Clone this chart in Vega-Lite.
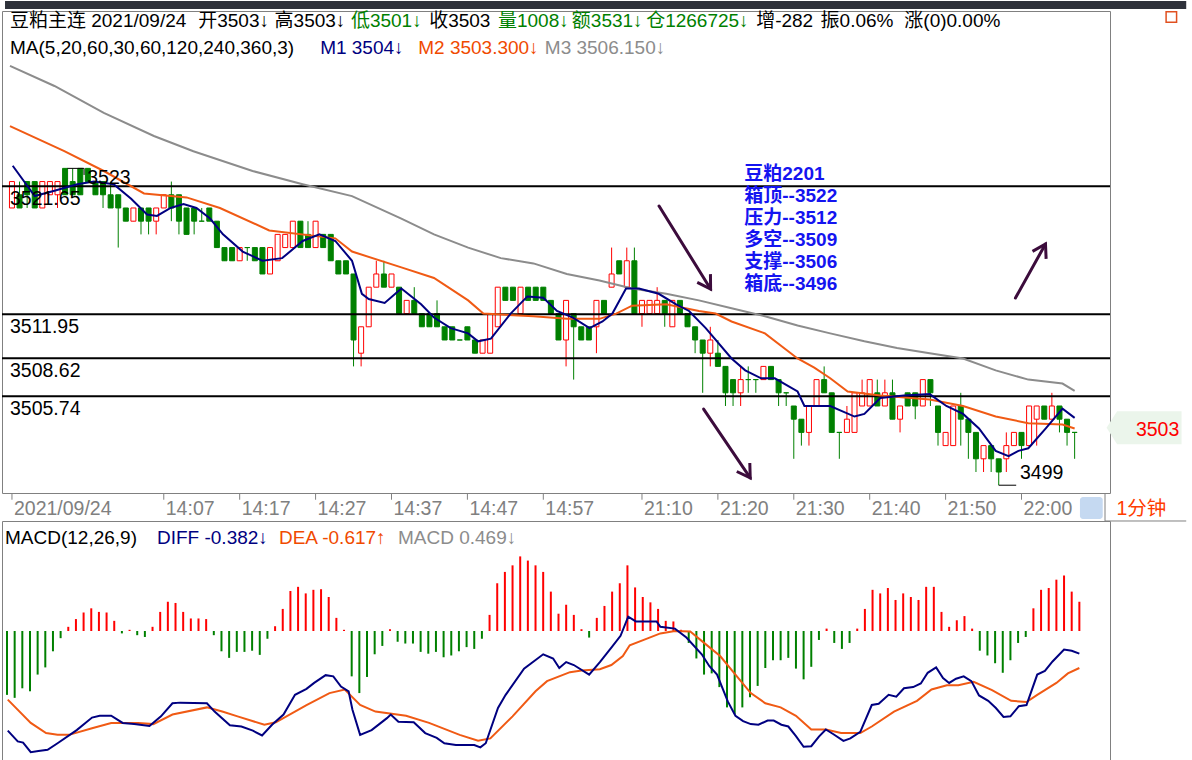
{
"$schema": "https://vega.github.io/schema/vega-lite/v6.json",
"background": "white",
"padding": 0,
"autosize": {"type": "pad"},
"spacing": 28,
"bounds": "flush",
"config": {"font": "Liberation Sans, Noto Sans CJK SC", "view": {"stroke": "#808080", "fill": "white"}},
"resolve": {"scale": {"x": "independent", "y": "independent"}},
"datasets": {
"candles": [
{"i":0,"o":3520,"h":3522,"l":3520,"c":3522},{"i":1,"o":3521,"h":3522,"l":3520,"c":3520},{"i":2,"o":3522,"h":3522,"l":3520,"c":3521},{"i":3,"o":3522,"h":3522,"l":3520,"c":3520},{"i":4,"o":3520,"h":3522,"l":3520,"c":3522},{"i":5,"o":3521,"h":3522,"l":3521,"c":3522},{"i":6,"o":3521,"h":3522,"l":3520,"c":3522},{"i":7,"o":3523,"h":3523,"l":3521,"c":3521},{"i":8,"o":3522,"h":3523,"l":3521,"c":3521},{"i":9,"o":3523,"h":3523,"l":3521,"c":3521},
{"i":10,"o":3523,"h":3523,"l":3522,"c":3522},{"i":11,"o":3522,"h":3522,"l":3521,"c":3521},{"i":12,"o":3522,"h":3522,"l":3520,"c":3521},{"i":13,"o":3521,"h":3522,"l":3520,"c":3520},{"i":14,"o":3521,"h":3521,"l":3517,"c":3520},{"i":15,"o":3520,"h":3520,"l":3519,"c":3519},{"i":16,"o":3519,"h":3520,"l":3519,"c":3520},{"i":17,"o":3520,"h":3520,"l":3518,"c":3519},{"i":18,"o":3520,"h":3520,"l":3518,"c":3519},{"i":19,"o":3519,"h":3520,"l":3518,"c":3520},
{"i":20,"o":3520,"h":3521,"l":3520,"c":3521},{"i":21,"o":3521,"h":3522,"l":3519,"c":3520},{"i":22,"o":3521,"h":3521,"l":3518,"c":3519},{"i":23,"o":3520,"h":3520,"l":3518,"c":3518},{"i":24,"o":3520,"h":3520,"l":3518,"c":3519},{"i":25,"o":3519,"h":3520,"l":3519,"c":3519},{"i":26,"o":3520,"h":3520,"l":3519,"c":3519},{"i":27,"o":3519,"h":3519,"l":3517,"c":3517},{"i":28,"o":3517,"h":3517,"l":3516,"c":3516},{"i":29,"o":3517,"h":3517,"l":3516,"c":3516},
{"i":30,"o":3516,"h":3517,"l":3516,"c":3517},{"i":31,"o":3517,"h":3517,"l":3516,"c":3517},{"i":32,"o":3517,"h":3517,"l":3516,"c":3516},{"i":33,"o":3517,"h":3517,"l":3515,"c":3515},{"i":34,"o":3515,"h":3517,"l":3515,"c":3517},{"i":35,"o":3516,"h":3518,"l":3516,"c":3518},{"i":36,"o":3517,"h":3518,"l":3517,"c":3518},{"i":37,"o":3517,"h":3519,"l":3517,"c":3519},{"i":38,"o":3519,"h":3519,"l":3517,"c":3517},{"i":39,"o":3518,"h":3519,"l":3517,"c":3517},
{"i":40,"o":3517,"h":3519,"l":3517,"c":3519},{"i":41,"o":3518,"h":3518,"l":3517,"c":3517},{"i":42,"o":3518,"h":3518,"l":3516,"c":3516},{"i":43,"o":3516,"h":3516,"l":3515,"c":3515},{"i":44,"o":3516,"h":3516,"l":3515,"c":3515},{"i":45,"o":3515,"h":3515,"l":3508,"c":3510},{"i":46,"o":3509,"h":3511,"l":3508,"c":3511},{"i":47,"o":3511,"h":3514,"l":3511,"c":3514},{"i":48,"o":3514,"h":3516,"l":3514,"c":3515},{"i":49,"o":3515,"h":3516,"l":3514,"c":3514},
{"i":50,"o":3514,"h":3515,"l":3514,"c":3515},{"i":51,"o":3514,"h":3514,"l":3512,"c":3512},{"i":52,"o":3512,"h":3513,"l":3512,"c":3513},{"i":53,"o":3513,"h":3514,"l":3512,"c":3512},{"i":54,"o":3512,"h":3512,"l":3511,"c":3511},{"i":55,"o":3512,"h":3512,"l":3511,"c":3511},{"i":56,"o":3512,"h":3513,"l":3511,"c":3511},{"i":57,"o":3511,"h":3511,"l":3510,"c":3510},{"i":58,"o":3511,"h":3511,"l":3510,"c":3510},{"i":59,"o":3510,"h":3510,"l":3510,"c":3510},
{"i":60,"o":3511,"h":3511,"l":3510,"c":3510},{"i":61,"o":3510,"h":3510,"l":3509,"c":3509},{"i":62,"o":3509,"h":3510,"l":3509,"c":3510},{"i":63,"o":3509,"h":3512,"l":3509,"c":3512},{"i":64,"o":3511,"h":3514,"l":3511,"c":3514},{"i":65,"o":3514,"h":3514,"l":3513,"c":3513},{"i":66,"o":3514,"h":3514,"l":3513,"c":3513},{"i":67,"o":3512,"h":3514,"l":3512,"c":3514},{"i":68,"o":3514,"h":3514,"l":3513,"c":3513},{"i":69,"o":3514,"h":3514,"l":3513,"c":3513},
{"i":70,"o":3514,"h":3514,"l":3513,"c":3513},{"i":71,"o":3513,"h":3513,"l":3512,"c":3512},{"i":72,"o":3512,"h":3512,"l":3510,"c":3510},{"i":73,"o":3510,"h":3513,"l":3508,"c":3513},{"i":74,"o":3512,"h":3512,"l":3507,"c":3511},{"i":75,"o":3511,"h":3511,"l":3510,"c":3510},{"i":76,"o":3511,"h":3511,"l":3510,"c":3510},{"i":77,"o":3511,"h":3513,"l":3509,"c":3513},{"i":78,"o":3513,"h":3513,"l":3512,"c":3512},{"i":79,"o":3514,"h":3517,"l":3514,"c":3515},
{"i":80,"o":3516,"h":3516,"l":3515,"c":3515},{"i":81,"o":3514,"h":3517,"l":3514,"c":3516},{"i":82,"o":3516,"h":3517,"l":3512,"c":3512},{"i":83,"o":3512,"h":3513,"l":3511,"c":3513},{"i":84,"o":3512,"h":3513,"l":3512,"c":3513},{"i":85,"o":3512,"h":3514,"l":3512,"c":3513},{"i":86,"o":3513,"h":3513,"l":3511,"c":3512},{"i":87,"o":3511,"h":3513,"l":3511,"c":3513},{"i":88,"o":3513,"h":3513,"l":3512,"c":3512},{"i":89,"o":3512,"h":3512,"l":3511,"c":3511},
{"i":90,"o":3511,"h":3511,"l":3509,"c":3510},{"i":91,"o":3510,"h":3510,"l":3506,"c":3509},{"i":92,"o":3509,"h":3511,"l":3508,"c":3510},{"i":93,"o":3509,"h":3510,"l":3508,"c":3508},{"i":94,"o":3508,"h":3508,"l":3505,"c":3506},{"i":95,"o":3507,"h":3507,"l":3505,"c":3506},{"i":96,"o":3506,"h":3508,"l":3505,"c":3507},{"i":97,"o":3507,"h":3508,"l":3506,"c":3507},{"i":98,"o":3507,"h":3507,"l":3506,"c":3507},{"i":99,"o":3507,"h":3508,"l":3507,"c":3508},
{"i":100,"o":3508,"h":3508,"l":3507,"c":3507},{"i":101,"o":3507,"h":3507,"l":3505,"c":3506},{"i":102,"o":3506,"h":3506,"l":3505,"c":3506},{"i":103,"o":3505,"h":3505,"l":3501,"c":3504},{"i":104,"o":3504,"h":3504,"l":3502,"c":3503},{"i":105,"o":3503,"h":3505,"l":3502,"c":3505},{"i":106,"o":3505,"h":3507,"l":3505,"c":3507},{"i":107,"o":3507,"h":3508,"l":3506,"c":3506},{"i":108,"o":3506,"h":3506,"l":3503,"c":3503},{"i":109,"o":3503,"h":3503,"l":3501,"c":3503},
{"i":110,"o":3503,"h":3505,"l":3503,"c":3504},{"i":111,"o":3503,"h":3506,"l":3503,"c":3506},{"i":112,"o":3505,"h":3507,"l":3505,"c":3506},{"i":113,"o":3505,"h":3507,"l":3505,"c":3507},{"i":114,"o":3506,"h":3507,"l":3505,"c":3505},{"i":115,"o":3505,"h":3507,"l":3505,"c":3506},{"i":116,"o":3506,"h":3507,"l":3504,"c":3504},{"i":117,"o":3504,"h":3505,"l":3503,"c":3505},{"i":118,"o":3506,"h":3506,"l":3505,"c":3505},{"i":119,"o":3506,"h":3506,"l":3504,"c":3505},
{"i":120,"o":3505,"h":3507,"l":3505,"c":3507},{"i":121,"o":3507,"h":3507,"l":3505,"c":3506},{"i":122,"o":3505,"h":3505,"l":3502,"c":3503},{"i":123,"o":3502,"h":3503,"l":3502,"c":3503},{"i":124,"o":3502,"h":3505,"l":3502,"c":3505},{"i":125,"o":3505,"h":3506,"l":3502,"c":3504},{"i":126,"o":3504,"h":3504,"l":3501,"c":3503},{"i":127,"o":3503,"h":3503,"l":3500,"c":3501},{"i":128,"o":3501,"h":3502,"l":3500,"c":3502},{"i":129,"o":3502,"h":3502,"l":3500,"c":3501},
{"i":130,"o":3501,"h":3501,"l":3499,"c":3500},{"i":131,"o":3501,"h":3503,"l":3500,"c":3502},{"i":132,"o":3502,"h":3503,"l":3502,"c":3503},{"i":133,"o":3503,"h":3503,"l":3501,"c":3502},{"i":134,"o":3502,"h":3505,"l":3502,"c":3505},{"i":135,"o":3504,"h":3505,"l":3502,"c":3505},{"i":136,"o":3505,"h":3505,"l":3504,"c":3504},{"i":137,"o":3504,"h":3506,"l":3504,"c":3505},{"i":138,"o":3505,"h":3505,"l":3503,"c":3504},{"i":139,"o":3504,"h":3504,"l":3502,"c":3503},
{"i":140,"o":3503,"h":3503,"l":3501,"c":3503}
],
"ma1": [
{"i":0.1,"p":3523.2},{"i":3.0,"p":3520.9},{"i":5.6,"p":3521.3},{"i":8.6,"p":3521.8},{"i":10.8,"p":3522.0},{"i":13.4,"p":3521.8},{"i":15.7,"p":3520.7},{"i":17.8,"p":3519.5},{"i":19.1,"p":3519.4},{"i":20.9,"p":3520.0},{"i":22.6,"p":3520.3},{"i":24.3,"p":3520.0},{"i":26.1,"p":3519.2},{"i":27.8,"p":3518.0},{"i":30.4,"p":3516.7},{"i":33.0,"p":3516.0},{"i":35.6,"p":3516.2},{"i":38.3,"p":3517.5},{"i":40.5,"p":3518.0},{"i":42.6,"p":3517.5},{"i":44.8,"p":3516.0},{"i":46.1,"p":3513.5},{"i":47.0,"p":3513.1},{"i":49.1,"p":3512.8},{"i":51.3,"p":3513.9},{"i":53.9,"p":3512.7},{"i":55.6,"p":3511.7},{"i":57.8,"p":3510.9},{"i":60.1,"p":3510.5},{"i":61.4,"p":3509.9},{"i":63.1,"p":3510.1},{"i":65.7,"p":3512.0},{"i":67.9,"p":3513.3},{"i":70.0,"p":3513.2},{"i":71.8,"p":3512.2},{"i":73.9,"p":3511.7},{"i":76.1,"p":3510.9},{"i":77.8,"p":3511.4},{"i":79.1,"p":3512.0},{"i":80.9,"p":3513.9},{"i":82.6,"p":3513.9},{"i":85.2,"p":3513.5},{"i":87.5,"p":3512.7},{"i":89.2,"p":3512.2},{"i":91.4,"p":3510.9},{"i":94.8,"p":3508.6},{"i":96.6,"p":3507.7},{"i":98.7,"p":3507.1},{"i":100.5,"p":3507.1},{"i":103.5,"p":3506.1},{"i":104.4,"p":3505.0},{"i":107.8,"p":3505.0},{"i":111.0,"p":3504.2},{"i":112.3,"p":3504.4},{"i":114.4,"p":3505.6},{"i":117.5,"p":3505.8},{"i":120.9,"p":3505.9},{"i":123.1,"p":3505.0},{"i":125.3,"p":3504.4},{"i":127.4,"p":3503.3},{"i":129.6,"p":3501.6},{"i":131.3,"p":3501.2},{"i":132.6,"p":3501.6},{"i":133.9,"p":3501.8},{"i":136.2,"p":3503.3},{"i":138.4,"p":3504.8},{"i":140,"p":3504.1}
],
"ma2": [
{"i":-0.26,"p":3526.2},{"i":6.9,"p":3524.3},{"i":12.1,"p":3522.8},{"i":17.4,"p":3521.1},{"i":23.0,"p":3520.8},{"i":27.4,"p":3520.0},{"i":33.9,"p":3518.3},{"i":42.6,"p":3517.7},{"i":44.8,"p":3516.7},{"i":51.3,"p":3515.5},{"i":55.6,"p":3514.7},{"i":60.1,"p":3513.0},{"i":62.1,"p":3512.0},{"i":68.7,"p":3511.8},{"i":73.1,"p":3511.6},{"i":77.4,"p":3511.6},{"i":79.6,"p":3512.0},{"i":81.7,"p":3512.6},{"i":86.2,"p":3512.7},{"i":90.5,"p":3512.2},{"i":92.7,"p":3512.0},{"i":94.8,"p":3511.4},{"i":99.2,"p":3510.5},{"i":103.5,"p":3508.6},{"i":105.7,"p":3507.9},{"i":107.8,"p":3507.1},{"i":110.1,"p":3506.1},{"i":114.4,"p":3505.8},{"i":120.9,"p":3505.5},{"i":125.3,"p":3505.0},{"i":129.6,"p":3504.2},{"i":133.9,"p":3503.7},{"i":138.4,"p":3503.6},{"i":140,"p":3503.3}
],
"ma3": [
{"i":-0.26,"p":3530.76},{"i":5.6,"p":3529.24},{"i":12.1,"p":3527.2},{"i":18.7,"p":3525.45},{"i":23.9,"p":3524.3},{"i":31.7,"p":3522.8},{"i":38.3,"p":3521.8},{"i":44.8,"p":3520.9},{"i":51.3,"p":3519.2},{"i":55.6,"p":3518.0},{"i":60.1,"p":3517.0},{"i":64.4,"p":3516.2},{"i":68.7,"p":3515.8},{"i":73.1,"p":3515.0},{"i":77.4,"p":3514.5},{"i":81.7,"p":3513.9},{"i":86.2,"p":3513.5},{"i":90.5,"p":3513.0},{"i":94.8,"p":3512.4},{"i":99.2,"p":3511.8},{"i":103.5,"p":3511.1},{"i":107.8,"p":3510.5},{"i":112.3,"p":3509.9},{"i":116.6,"p":3509.4},{"i":120.9,"p":3509.0},{"i":125.3,"p":3508.6},{"i":129.6,"p":3507.7},{"i":133.9,"p":3507.0},{"i":138.4,"p":3506.7},{"i":140,"p":3506.15}
],
"levels": [{"p":3521.65},{"p":3511.95},{"p":3508.62},{"p":3505.74}],
"times": [{"t":"2021/09/24","i":0},{"t":"14:07","i":20},{"t":"14:17","i":30},{"t":"14:27","i":40},{"t":"14:37","i":50},{"t":"14:47","i":60},{"t":"14:57","i":70},{"t":"21:10","i":83},{"t":"21:20","i":93},{"t":"21:30","i":103},{"t":"21:40","i":113},{"t":"21:50","i":123},{"t":"22:00","i":133}],
"hdr": [
{"t":"豆粕主连","i":-0.26,"p":3534.17,"c":"k"},{"t":"2021/09/24","i":10.44,"p":3534.17,"c":"k"},{"t":"开3503↓","i":24.54,"p":3534.17,"c":"k"},{"t":"高3503↓","i":34.6,"p":3534.17,"c":"k"},{"t":"低3501↓","i":44.65,"p":3534.17,"c":"g"},{"t":"收3503","i":54.96,"p":3534.17,"c":"k"},{"t":"量1008↓","i":64.03,"p":3534.17,"c":"g"},{"t":"额3531↓","i":73.76,"p":3534.17,"c":"g"},{"t":"仓1266725↓","i":83.55,"p":3534.17,"c":"g"},{"t":"增-282","i":98.04,"p":3534.17,"c":"k"},{"t":"振0.06%","i":106.53,"p":3534.17,"c":"k"},{"t":"涨(0)0.00%","i":117.56,"p":3534.17,"c":"k"},
{"t":"MA(5,20,60,30,60,120,240,360,3)","i":-0.26,"p":3532.12,"c":"k"},{"t":"M1 3504↓","i":40.6,"p":3532.12,"c":"n"},{"t":"M2 3503.300↓","i":53.52,"p":3532.12,"c":"o"},{"t":"M3 3506.150↓","i":70.2,"p":3532.12,"c":"y"}
],
"notes": [{"t":"豆粕2201","p":3522.58},{"t":"箱顶--3522","p":3520.91},{"t":"压力--3512","p":3519.24},{"t":"多空--3509","p":3517.58},{"t":"支撑--3506","p":3515.91},{"t":"箱底--3496","p":3514.24}],
"arrows": [{"name":"a1","i":85.25,"p":3520.15,"i2":92.04,"p2":3513.86},{"name":"a2","i":91.12,"p":3504.77,"i2":97.26,"p2":3499.55},{"name":"a3","i":132.2,"p":3513.18,"i2":136.16,"p2":3517.27}],
"brackets": [{"i":7.3,"p":3523,"i2":9.5,"p2":3523},{"i":9.5,"p":3523,"i2":9.5,"p2":3522.5},{"i":130,"p":3499,"i2":132.3,"p2":3499}],
"hl": [{"t":"3523","i":9.92,"p":3522.27},{"t":"3499","i":132.8,"p":3499.9}],
"macd": [
{"i":0,"v":-1.07},{"i":1,"v":-1.12},{"i":2,"v":-0.96},{"i":3,"v":-1.01},{"i":4,"v":-0.73},{"i":5,"v":-0.61},{"i":6,"v":-0.34},{"i":7,"v":-0.12},{"i":8,"v":0.07},{"i":9,"v":0.20},
{"i":10,"v":0.31},{"i":11,"v":0.38},{"i":12,"v":0.32},{"i":13,"v":0.31},{"i":14,"v":0.17},{"i":15,"v":-0.04},{"i":16,"v":0.02},{"i":17,"v":-0.07},{"i":18,"v":-0.10},{"i":19,"v":0.07},
{"i":20,"v":0.32},{"i":21,"v":0.49},{"i":22,"v":0.47},{"i":23,"v":0.32},{"i":24,"v":0.21},{"i":25,"v":0.21},{"i":26,"v":0.20},{"i":27,"v":-0.07},{"i":28,"v":-0.34},{"i":29,"v":-0.45},
{"i":30,"v":-0.35},{"i":31,"v":-0.35},{"i":32,"v":-0.33},{"i":33,"v":-0.40},{"i":34,"v":-0.13},{"i":35,"v":0.08},{"i":36,"v":0.37},{"i":37,"v":0.67},{"i":38,"v":0.74},{"i":39,"v":0.63},
{"i":40,"v":0.69},{"i":41,"v":0.70},{"i":42,"v":0.57},{"i":43,"v":0.22},{"i":44,"v":0.02},{"i":45,"v":-0.76},{"i":46,"v":-1.04},{"i":47,"v":-0.77},{"i":48,"v":-0.39},{"i":49,"v":-0.25},
{"i":50,"v":0.03},{"i":51,"v":-0.18},{"i":52,"v":-0.21},{"i":53,"v":-0.21},{"i":54,"v":-0.35},{"i":55,"v":-0.38},{"i":56,"v":-0.35},{"i":57,"v":-0.44},{"i":58,"v":-0.41},{"i":59,"v":-0.34},
{"i":60,"v":-0.27},{"i":61,"v":-0.30},{"i":62,"v":-0.13},{"i":63,"v":0.27},{"i":64,"v":0.80},{"i":65,"v":0.99},{"i":66,"v":1.10},{"i":67,"v":1.25},{"i":68,"v":1.18},{"i":69,"v":1.10},
{"i":70,"v":0.99},{"i":71,"v":0.66},{"i":72,"v":0.29},{"i":73,"v":0.44},{"i":74,"v":0.27},{"i":75,"v":0.03},{"i":76,"v":-0.11},{"i":77,"v":0.22},{"i":78,"v":0.42},{"i":79,"v":0.66},
{"i":80,"v":0.80},{"i":81,"v":1.10},{"i":82,"v":0.73},{"i":83,"v":0.57},{"i":84,"v":0.48},{"i":85,"v":0.37},{"i":86,"v":0.17},{"i":87,"v":0.16},{"i":88,"v":0.02},{"i":89,"v":-0.20},
{"i":90,"v":-0.46},{"i":91,"v":-0.73},{"i":92,"v":-0.71},{"i":93,"v":-0.94},{"i":94,"v":-1.28},{"i":95,"v":-1.39},{"i":96,"v":-1.28},{"i":97,"v":-1.11},{"i":98,"v":-0.92},{"i":99,"v":-0.62},
{"i":100,"v":-0.49},{"i":101,"v":-0.49},{"i":102,"v":-0.45},{"i":103,"v":-0.63},{"i":104,"v":-0.81},{"i":105,"v":-0.60},{"i":106,"v":-0.15},{"i":107,"v":0.04},{"i":108,"v":-0.20},{"i":109,"v":-0.30},
{"i":110,"v":-0.20},{"i":111,"v":0.04},{"i":112,"v":0.37},{"i":113,"v":0.69},{"i":114,"v":0.63},{"i":115,"v":0.72},{"i":116,"v":0.52},{"i":117,"v":0.63},{"i":118,"v":0.57},{"i":119,"v":0.52},
{"i":120,"v":0.74},{"i":121,"v":0.74},{"i":122,"v":0.32},{"i":123,"v":0.07},{"i":124,"v":0.18},{"i":125,"v":0.25},{"i":126,"v":0.04},{"i":127,"v":-0.33},{"i":128,"v":-0.41},{"i":129,"v":-0.54},
{"i":130,"v":-0.70},{"i":131,"v":-0.49},{"i":132,"v":-0.20},{"i":133,"v":-0.10},{"i":134,"v":0.38},{"i":135,"v":0.69},{"i":136,"v":0.72},{"i":137,"v":0.86},{"i":138,"v":0.93},{"i":139,"v":0.66},
{"i":140,"v":0.49}
],
"diff": [
{"i":0.1,"v":-1.67},{"i":1.4,"v":-1.85},{"i":2.1,"v":-1.87},{"i":3.1,"v":-2.03},{"i":4.1,"v":-2.01},{"i":5.3,"v":-1.99},{"i":6.6,"v":-1.88},{"i":9.1,"v":-1.66},{"i":11.1,"v":-1.45},{"i":12.1,"v":-1.42},{"i":13.6,"v":-1.42},{"i":15.1,"v":-1.54},{"i":16.6,"v":-1.56},{"i":18.6,"v":-1.59},{"i":20.1,"v":-1.43},{"i":21.6,"v":-1.21},{"i":22.6,"v":-1.20},{"i":26.1,"v":-1.21},{"i":27.1,"v":-1.35},{"i":29.1,"v":-1.58},{"i":30.6,"v":-1.60},{"i":32.1,"v":-1.67},{"i":33.3,"v":-1.75},{"i":34.6,"v":-1.57},{"i":36.1,"v":-1.40},{"i":37.6,"v":-1.07},{"i":39.1,"v":-0.97},{"i":40.1,"v":-0.87},{"i":41.6,"v":-0.74},{"i":42.6,"v":-0.76},{"i":43.6,"v":-0.93},{"i":44.6,"v":-1.01},{"i":45.1,"v":-1.32},{"i":46.1,"v":-1.74},{"i":47.6,"v":-1.66},{"i":48.6,"v":-1.56},{"i":49.6,"v":-1.46},{"i":50.1,"v":-1.40},{"i":51.1,"v":-1.52},{"i":53.1,"v":-1.53},{"i":54.6,"v":-1.71},{"i":56.1,"v":-1.79},{"i":57.1,"v":-1.88},{"i":58.6,"v":-1.91},{"i":61.0,"v":-1.91},{"i":61.8,"v":-1.95},{"i":62.5,"v":-1.88},{"i":64.1,"v":-1.29},{"i":65.1,"v":-1.07},{"i":67.5,"v":-0.63},{"i":70.0,"v":-0.39},{"i":71.3,"v":-0.46},{"i":72.1,"v":-0.62},{"i":73.0,"v":-0.52},{"i":74.0,"v":-0.57},{"i":76.0,"v":-0.73},{"i":77.4,"v":-0.52},{"i":78.9,"v":-0.28},{"i":80.1,"v":-0.08},{"i":81.1,"v":0.24},{"i":82.1,"v":0.16},{"i":84.8,"v":0.16},{"i":85.3,"v":0.07},{"i":87.2,"v":0.04},{"i":88.7,"v":-0.11},{"i":90.7,"v":-0.39},{"i":91.7,"v":-0.59},{"i":92.7,"v":-0.73},{"i":94.1,"v":-1.18},{"i":95.1,"v":-1.42},{"i":96.1,"v":-1.51},{"i":97.1,"v":-1.56},{"i":98.1,"v":-1.57},{"i":99.3,"v":-1.50},{"i":100.1,"v":-1.50},{"i":101.1,"v":-1.57},{"i":102.0,"v":-1.60},{"i":103.0,"v":-1.76},{"i":104.0,"v":-1.94},{"i":105.0,"v":-1.93},{"i":106.0,"v":-1.77},{"i":106.9,"v":-1.65},{"i":107.9,"v":-1.73},{"i":109.2,"v":-1.84},{"i":110.1,"v":-1.80},{"i":111.4,"v":-1.69},{"i":112.9,"v":-1.24},{"i":113.8,"v":-1.22},{"i":115.1,"v":-1.07},{"i":116.1,"v":-1.10},{"i":117.1,"v":-0.96},{"i":118.3,"v":-0.94},{"i":119.3,"v":-0.88},{"i":120.2,"v":-0.70},{"i":121.3,"v":-0.61},{"i":122.2,"v":-0.79},{"i":123.0,"v":-0.87},{"i":123.9,"v":-0.80},{"i":124.9,"v":-0.76},{"i":125.9,"v":-0.84},{"i":126.9,"v":-1.08},{"i":128.1,"v":-1.17},{"i":129.1,"v":-1.29},{"i":130.1,"v":-1.44},{"i":131.0,"v":-1.43},{"i":132.1,"v":-1.26},{"i":133.1,"v":-1.24},{"i":134.5,"v":-0.73},{"i":135.5,"v":-0.67},{"i":136.5,"v":-0.51},{"i":138.0,"v":-0.31},{"i":139.0,"v":-0.33},{"i":140.0,"v":-0.38}
],
"dea": [
{"i":0.1,"v":-1.15},{"i":3.1,"v":-1.54},{"i":5.1,"v":-1.71},{"i":6.6,"v":-1.74},{"i":8.1,"v":-1.74},{"i":11.1,"v":-1.63},{"i":13.6,"v":-1.54},{"i":17.1,"v":-1.54},{"i":19.1,"v":-1.56},{"i":21.6,"v":-1.40},{"i":26.1,"v":-1.28},{"i":28.1,"v":-1.35},{"i":30.1,"v":-1.43},{"i":33.6,"v":-1.57},{"i":35.1,"v":-1.53},{"i":39.1,"v":-1.24},{"i":42.1,"v":-1.04},{"i":44.1,"v":-0.98},{"i":46.1,"v":-1.24},{"i":48.1,"v":-1.35},{"i":52.1,"v":-1.42},{"i":55.1,"v":-1.54},{"i":59.1,"v":-1.74},{"i":61.5,"v":-1.84},{"i":63.1,"v":-1.80},{"i":66.0,"v":-1.43},{"i":69.0,"v":-1.01},{"i":70.5,"v":-0.84},{"i":73.5,"v":-0.69},{"i":75.0,"v":-0.66},{"i":77.4,"v":-0.64},{"i":78.9,"v":-0.57},{"i":80.4,"v":-0.42},{"i":81.3,"v":-0.24},{"i":83.3,"v":-0.14},{"i":85.3,"v":-0.04},{"i":87.2,"v":0.0},{"i":89.2,"v":-0.01},{"i":91.2,"v":-0.22},{"i":93.1,"v":-0.42},{"i":95.1,"v":-0.73},{"i":97.1,"v":-1.04},{"i":99.0,"v":-1.21},{"i":101.0,"v":-1.28},{"i":103.0,"v":-1.42},{"i":105.0,"v":-1.65},{"i":106.9,"v":-1.65},{"i":108.9,"v":-1.71},{"i":111.4,"v":-1.71},{"i":112.9,"v":-1.60},{"i":115.8,"v":-1.35},{"i":118.8,"v":-1.17},{"i":120.7,"v":-0.98},{"i":122.7,"v":-0.91},{"i":124.2,"v":-0.91},{"i":126.2,"v":-0.85},{"i":128.6,"v":-0.99},{"i":131.1,"v":-1.17},{"i":133.1,"v":-1.19},{"i":134.5,"v":-1.07},{"i":137.0,"v":-0.87},{"i":138.5,"v":-0.71},{"i":140.0,"v":-0.62}
],
"mhdr": [{"t":"MACD(12,26,9)","i":-0.26,"v":1.558,"c":"k"},{"t":"DIFF -0.382↓","i":19.58,"v":1.558,"c":"n"},{"t":"DEA -0.617↑","i":35.5,"v":1.558,"c":"o"},{"t":"MACD 0.469↓","i":51.04,"v":1.558,"c":"y"}]
},
"vconcat": [
{
"width": 1108, "height": 482,
"layer": [
{"data": {"values": [{"i":-0.914,"i2":154.7,"p":3535.08,"p2":3535.68}]}, "mark": {"type": "rect", "color": "#2e313a"},
 "encoding": {"x": {"field": "i", "type": "quantitative", "scale": {"domain": [-0.653, 144], "nice": false, "zero": false}, "axis": null}, "x2": {"field": "i2"},
  "y": {"field": "p", "type": "quantitative", "scale": {"domain": [3498.41, 3534.92], "nice": false, "zero": false}, "axis": null}, "y2": {"field": "p2"}}},
{"data": {"name": "candles"}, "mark": {"type": "rule", "strokeWidth": 1},
 "encoding": {"x": {"field": "i", "type": "quantitative", "scale": {"domain": [-0.653, 144], "nice": false, "zero": false}, "axis": null},
  "y": {"field": "l", "type": "quantitative", "scale": {"domain": [3498.41, 3534.92], "nice": false, "zero": false},
   "axis": {"orient": "right", "title": null, "values": [3500,3505,3510,3515,3520,3525,3530], "format": "d", "grid": true, "gridColor": "#808080", "gridDash": [1,2], "gridWidth": 1, "domain": true, "domainColor": "#808080", "ticks": false, "labelAlign": "center", "labelPadding": 41, "labelBaseline": "middle", "labelColor": "#808080", "labelFontSize": 19.5, "labelFont": "Liberation Sans"}},
  "y2": {"field": "h"},
  "color": {"condition": {"test": "datum.c > datum.o", "value": "#ff0000"}, "value": "#008000"}}},
{"data": {"name": "candles"}, "mark": {"type": "bar", "size": 5, "strokeWidth": 1},
 "encoding": {"x": {"field": "i", "type": "quantitative", "scale": {"domain": [-0.653, 144], "nice": false, "zero": false}, "axis": null},
  "y": {"field": "o", "type": "quantitative", "scale": {"domain": [3498.41, 3534.92], "nice": false, "zero": false}, "axis": null}, "y2": {"field": "c"},
  "fill": {"condition": {"test": "datum.c > datum.o", "value": "#ffffff"}, "value": "#008000"},
  "stroke": {"condition": {"test": "datum.c > datum.o", "value": "#ff0000"}, "value": "#008000"}}},
{"data": {"name": "levels"}, "mark": {"type": "rule", "strokeWidth": 2, "color": "#000000"},
 "encoding": {"y": {"field": "p", "type": "quantitative", "scale": {"domain": [3498.41, 3534.92], "nice": false, "zero": false}, "axis": null}}},
{"data": {"name": "ma3"}, "mark": {"type": "line", "strokeWidth": 2, "color": "#8c8c8c"},
 "encoding": {"x": {"field": "i", "type": "quantitative", "scale": {"domain": [-0.653, 144], "nice": false, "zero": false}, "axis": null},
  "y": {"field": "p", "type": "quantitative", "scale": {"domain": [3498.41, 3534.92], "nice": false, "zero": false}, "axis": null}}},
{"data": {"name": "ma2"}, "mark": {"type": "line", "strokeWidth": 2, "color": "#f05a14"},
 "encoding": {"x": {"field": "i", "type": "quantitative", "scale": {"domain": [-0.653, 144], "nice": false, "zero": false}, "axis": null},
  "y": {"field": "p", "type": "quantitative", "scale": {"domain": [3498.41, 3534.92], "nice": false, "zero": false}, "axis": null}}},
{"data": {"name": "ma1"}, "mark": {"type": "line", "strokeWidth": 2, "color": "#000080"},
 "encoding": {"x": {"field": "i", "type": "quantitative", "scale": {"domain": [-0.653, 144], "nice": false, "zero": false}, "axis": null},
  "y": {"field": "p", "type": "quantitative", "scale": {"domain": [3498.41, 3534.92], "nice": false, "zero": false}, "axis": null}}},
{"data": {"name": "levels"}, "mark": {"type": "text", "align": "left", "baseline": "middle", "dy": 13, "fontSize": 19.5, "color": "#000000", "font": "Liberation Sans"},
 "encoding": {"x": {"datum": -0.26, "type": "quantitative", "scale": {"domain": [-0.653, 144], "nice": false, "zero": false}, "axis": null},
  "y": {"field": "p", "type": "quantitative", "scale": {"domain": [3498.41, 3534.92], "nice": false, "zero": false}, "axis": null},
  "text": {"field": "p", "type": "quantitative", "format": ".2f"}}},
{"data": {"name": "times"}, "mark": {"type": "rule", "strokeWidth": 1, "color": "#808080"},
 "encoding": {"x": {"field": "i", "type": "quantitative", "scale": {"domain": [-0.653, 144], "nice": false, "zero": false}, "axis": null},
  "y": {"datum": 3498.41, "type": "quantitative", "scale": {"domain": [3498.41, 3534.92], "nice": false, "zero": false}, "axis": null},
  "y2": {"datum": 3497.9}}},
{"data": {"name": "times"}, "mark": {"type": "text", "align": "left", "baseline": "top", "dx": 2, "fontSize": 19.5, "color": "#808080", "font": "Liberation Sans"},
 "encoding": {"x": {"field": "i", "type": "quantitative", "scale": {"domain": [-0.653, 144], "nice": false, "zero": false}, "axis": null},
  "y": {"datum": 3497.85, "type": "quantitative", "scale": {"domain": [3498.41, 3534.92], "nice": false, "zero": false}, "axis": null},
  "text": {"field": "t"}}},
{"data": {"values": [{"i":144,"i2":144,"p":3498.41,"p2":3496.29},{"i":144,"i2":154.7,"p":3496.29,"p2":3496.29}]}, "mark": {"type": "rule", "strokeWidth": 1, "color": "#808080"},
 "encoding": {"x": {"field": "i", "type": "quantitative", "scale": {"domain": [-0.653, 144], "nice": false, "zero": false}, "axis": null}, "x2": {"field": "i2"},
  "y": {"field": "p", "type": "quantitative", "scale": {"domain": [3498.41, 3534.92], "nice": false, "zero": false}, "axis": null}, "y2": {"field": "p2"}}},
{"data": {"name": "hdr"}, "mark": {"type": "text", "align": "left", "baseline": "middle", "fontSize": 19, "font": "Liberation Sans, Noto Sans CJK SC"},
 "encoding": {"x": {"field": "i", "type": "quantitative", "scale": {"domain": [-0.653, 144], "nice": false, "zero": false}, "axis": null},
  "y": {"field": "p", "type": "quantitative", "scale": {"domain": [3498.41, 3534.92], "nice": false, "zero": false}, "axis": null},
  "text": {"field": "t"},
  "color": {"field": "c", "type": "nominal", "scale": {"domain": ["k","g","n","o","y"], "range": ["#000000","#008000","#000080","#f04a00","#8c8c8c"]}, "legend": null}}},
{"data": {"name": "notes"}, "mark": {"type": "text", "align": "left", "baseline": "middle", "fontSize": 19, "fontWeight": "bold", "color": "#1414f0", "font": "Liberation Sans, Noto Sans CJK SC"},
 "encoding": {"x": {"datum": 96.48, "type": "quantitative", "scale": {"domain": [-0.653, 144], "nice": false, "zero": false}, "axis": null},
  "y": {"field": "p", "type": "quantitative", "scale": {"domain": [3498.41, 3534.92], "nice": false, "zero": false}, "axis": null},
  "text": {"field": "t"}}},
{"data": {"name": "arrows"}, "mark": {"type": "rule", "strokeWidth": 3, "color": "#3c0c3c", "strokeCap": "round"},
 "encoding": {"x": {"field": "i", "type": "quantitative", "scale": {"domain": [-0.653, 144], "nice": false, "zero": false}, "axis": null}, "x2": {"field": "i2"},
  "y": {"field": "p", "type": "quantitative", "scale": {"domain": [3498.41, 3534.92], "nice": false, "zero": false}, "axis": null}, "y2": {"field": "p2"}}},
{"data": {"name": "arrows"}, "transform": [{"filter": "datum.name == 'a1'"}], "mark": {"type": "point", "shape": "M -0.55 0.9 L 0 0 L 0.55 0.9", "size": 800, "filled": false, "strokeWidth": 3, "color": "#3c0c3c", "angle": 148, "opacity": 1},
 "encoding": {"x": {"field": "i2", "type": "quantitative", "scale": {"domain": [-0.653, 144], "nice": false, "zero": false}, "axis": null},
  "y": {"field": "p2", "type": "quantitative", "scale": {"domain": [3498.41, 3534.92], "nice": false, "zero": false}, "axis": null}}},
{"data": {"name": "arrows"}, "transform": [{"filter": "datum.name == 'a2'"}], "mark": {"type": "point", "shape": "M -0.55 0.9 L 0 0 L 0.55 0.9", "size": 800, "filled": false, "strokeWidth": 3, "color": "#3c0c3c", "angle": 147, "opacity": 1},
 "encoding": {"x": {"field": "i2", "type": "quantitative", "scale": {"domain": [-0.653, 144], "nice": false, "zero": false}, "axis": null},
  "y": {"field": "p2", "type": "quantitative", "scale": {"domain": [3498.41, 3534.92], "nice": false, "zero": false}, "axis": null}}},
{"data": {"name": "arrows"}, "transform": [{"filter": "datum.name == 'a3'"}], "mark": {"type": "point", "shape": "M -0.55 0.9 L 0 0 L 0.55 0.9", "size": 800, "filled": false, "strokeWidth": 3, "color": "#3c0c3c", "angle": 29, "opacity": 1},
 "encoding": {"x": {"field": "i2", "type": "quantitative", "scale": {"domain": [-0.653, 144], "nice": false, "zero": false}, "axis": null},
  "y": {"field": "p2", "type": "quantitative", "scale": {"domain": [3498.41, 3534.92], "nice": false, "zero": false}, "axis": null}}},
{"data": {"name": "brackets"}, "mark": {"type": "rule", "strokeWidth": 1, "color": "#000000"},
 "encoding": {"x": {"field": "i", "type": "quantitative", "scale": {"domain": [-0.653, 144], "nice": false, "zero": false}, "axis": null}, "x2": {"field": "i2"},
  "y": {"field": "p", "type": "quantitative", "scale": {"domain": [3498.41, 3534.92], "nice": false, "zero": false}, "axis": null}, "y2": {"field": "p2"}}},
{"data": {"name": "hl"}, "mark": {"type": "text", "align": "left", "baseline": "middle", "fontSize": 19.5, "color": "#000000", "font": "Liberation Sans"},
 "encoding": {"x": {"field": "i", "type": "quantitative", "scale": {"domain": [-0.653, 144], "nice": false, "zero": false}, "axis": null},
  "y": {"field": "p", "type": "quantitative", "scale": {"domain": [3498.41, 3534.92], "nice": false, "zero": false}, "axis": null},
  "text": {"field": "t"}}},
{"data": {"values": [{"i": 149.15, "p": 3503.35}]}, "mark": {"type": "point", "shape": "M -1 0 L -0.72 -0.44 L 1 -0.44 L 1 0.44 L -0.72 0.44 Z", "size": 5625, "filled": true, "color": "#ebf5eb", "opacity": 1},
 "encoding": {"x": {"field": "i", "type": "quantitative", "scale": {"domain": [-0.653, 144], "nice": false, "zero": false}, "axis": null},
  "y": {"field": "p", "type": "quantitative", "scale": {"domain": [3498.41, 3534.92], "nice": false, "zero": false}, "axis": null}}},
{"data": {"values": [{"t": "3503", "i": 153.79, "p": 3503.2}]}, "mark": {"type": "text", "align": "right", "baseline": "middle", "fontSize": 19.5, "color": "#ff0000", "font": "Liberation Sans"},
 "encoding": {"x": {"field": "i", "type": "quantitative", "scale": {"domain": [-0.653, 144], "nice": false, "zero": false}, "axis": null},
  "y": {"field": "p", "type": "quantitative", "scale": {"domain": [3498.41, 3534.92], "nice": false, "zero": false}, "axis": null},
  "text": {"field": "t"}}},
{"data": {"values": [{"t": "1分钟", "i": 148.8, "p": 3497.2}]}, "mark": {"type": "text", "align": "center", "baseline": "middle", "fontSize": 19.5, "color": "#ff3c00", "font": "Liberation Sans, Noto Sans CJK SC"},
 "encoding": {"x": {"field": "i", "type": "quantitative", "scale": {"domain": [-0.653, 144], "nice": false, "zero": false}, "axis": null},
  "y": {"field": "p", "type": "quantitative", "scale": {"domain": [3498.41, 3534.92], "nice": false, "zero": false}, "axis": null},
  "text": {"field": "t"}}},
{"data": {"values": [{"i": 140.7, "i2": 143.7, "p": 3498.1, "p2": 3496.44}]}, "mark": {"type": "rect", "color": "#c5d9f1", "cornerRadius": 3},
 "encoding": {"x": {"field": "i", "type": "quantitative", "scale": {"domain": [-0.653, 144], "nice": false, "zero": false}, "axis": null}, "x2": {"field": "i2"},
  "y": {"field": "p", "type": "quantitative", "scale": {"domain": [3498.41, 3534.92], "nice": false, "zero": false}, "axis": null}, "y2": {"field": "p2"}}},
{"data": {"values": [{"i": 152.74, "p": 3534.47}]}, "mark": {"type": "point", "shape": "square", "size": 110, "filled": false, "strokeWidth": 1.5, "color": "#e05020", "opacity": 1},
 "encoding": {"x": {"field": "i", "type": "quantitative", "scale": {"domain": [-0.653, 144], "nice": false, "zero": false}, "axis": null},
  "y": {"field": "p", "type": "quantitative", "scale": {"domain": [3498.41, 3534.92], "nice": false, "zero": false}, "axis": null}}}
]
},
{
"width": 1108, "height": 240,
"layer": [
{"data": {"name": "macd"}, "mark": {"type": "rule", "strokeWidth": 2},
 "encoding": {"x": {"field": "i", "type": "quantitative", "scale": {"domain": [-0.653, 144], "nice": false, "zero": false}, "axis": null},
  "y": {"field": "v", "type": "quantitative", "scale": {"domain": [-2.178, 1.843], "nice": false, "zero": false},
   "axis": {"orient": "right", "title": null, "values": [1, 0.5, 0, -0.5, -1, -1.5, -2], "labelExpr": "datum.value == 0 ? '0' : (datum.value < 0 ? '-' + format(-datum.value, '.2f') : format(datum.value, '.2f'))", "grid": true, "gridColor": "#808080", "gridDash": [1,2], "gridWidth": 1, "domain": true, "domainColor": "#808080", "ticks": false, "labelAlign": "center", "labelPadding": 41, "labelBaseline": "middle", "labelColor": "#808080", "labelFontSize": 19.5, "labelFont": "Liberation Sans"}},
  "y2": {"datum": 0},
  "color": {"condition": {"test": "datum.v > 0", "value": "#ff0000"}, "value": "#008000"}}},
{"data": {"name": "dea"}, "mark": {"type": "line", "strokeWidth": 2, "color": "#f05a14"},
 "encoding": {"x": {"field": "i", "type": "quantitative", "scale": {"domain": [-0.653, 144], "nice": false, "zero": false}, "axis": null},
  "y": {"field": "v", "type": "quantitative", "scale": {"domain": [-2.178, 1.843], "nice": false, "zero": false}, "axis": null}}},
{"data": {"name": "diff"}, "mark": {"type": "line", "strokeWidth": 2, "color": "#000080"},
 "encoding": {"x": {"field": "i", "type": "quantitative", "scale": {"domain": [-0.653, 144], "nice": false, "zero": false}, "axis": null},
  "y": {"field": "v", "type": "quantitative", "scale": {"domain": [-2.178, 1.843], "nice": false, "zero": false}, "axis": null}}},
{"data": {"name": "mhdr"}, "mark": {"type": "text", "align": "left", "baseline": "middle", "fontSize": 19, "font": "Liberation Sans, Noto Sans CJK SC"},
 "encoding": {"x": {"field": "i", "type": "quantitative", "scale": {"domain": [-0.653, 144], "nice": false, "zero": false}, "axis": null},
  "y": {"field": "v", "type": "quantitative", "scale": {"domain": [-2.178, 1.843], "nice": false, "zero": false}, "axis": null},
  "text": {"field": "t"},
  "color": {"field": "c", "type": "nominal", "scale": {"domain": ["k","g","n","o","y"], "range": ["#000000","#008000","#000080","#f04a00","#8c8c8c"]}, "legend": null}}}
]
}
]
}
